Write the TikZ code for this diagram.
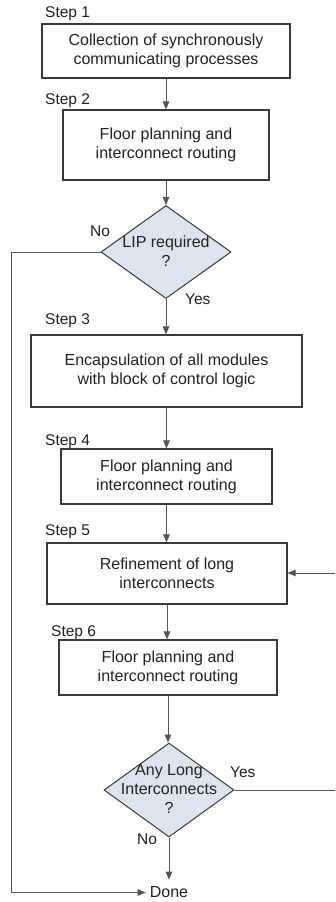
\documentclass[tikz,border=0pt]{standalone}
\usepackage{fontspec}
\setmainfont{Liberation Sans}
\usetikzlibrary{shapes.geometric,arrows.meta}
\definecolor{boxline}{HTML}{3A3A3A}
\definecolor{conn}{HTML}{555555}
\definecolor{diafill}{HTML}{DCE4F0}
\definecolor{txtc}{HTML}{222222}
\tikzset{
  stepbox/.style={draw=boxline, line width=1.1pt, fill=white, inner sep=0pt, align=center,
    text=txtc, font=\fontsize{16}{19}\selectfont},
  diabox/.style={draw=boxline, line width=1pt, fill=diafill, diamond, inner sep=0pt,
    minimum width=130pt, minimum height=93pt},
  txt/.style={text=txtc, inner sep=0pt, align=center, font=\fontsize{16}{19}\selectfont},
  steplbl/.style={text=txtc, inner sep=0pt, anchor=base west, font=\fontsize{15.5}{18}\selectfont},
  conn/.style={draw=conn, line width=1pt},
  arr/.style={conn, -{Triangle[length=8pt,width=6.5pt]}},
}
\begin{document}
\begin{tikzpicture}[x=1pt,y=-1pt]
\useasboundingbox (0,0) rectangle (335,902);
\clip (0,0) rectangle (335,902);
\fill[white] (0,0) rectangle (335,902);

% step labels
\node[steplbl] (s1) at (45,17) {Step 1};
\node[steplbl] (s2) at (45,104) {Step 2};
\node[steplbl] (s3) at (45,324) {Step 3};
\node[steplbl] (s4) at (45,445) {Step 4};
\node[steplbl] (s5) at (45,535) {Step 5};
\node[steplbl] (s6) at (51,636) {Step 6};

% boxes
\node[stepbox, minimum width=248pt, minimum height=54pt] (b1) at (166,51) {Collection of synchronously\\communicating processes};
\node[stepbox, minimum width=206pt, minimum height=70pt] (b2) at (166,145) {Floor planning and\\interconnect routing};
\node[diabox] (d1) at (166,252) {};
\node[txt] (d1t) at (166,251) {LIP required\\?};
\node[stepbox, minimum width=271pt, minimum height=72pt] (b3) at (166.5,371) {Encapsulation of all modules\\with block of control logic};
\node[stepbox, minimum width=211pt, minimum height=55pt] (b4) at (166.5,476.5) {Floor planning and\\interconnect routing};
\node[stepbox, minimum width=240pt, minimum height=61pt] (b5) at (167,573.5) {Refinement of long\\interconnects};
\node[stepbox, minimum width=218pt, minimum height=55pt] (b6) at (168,667.5) {Floor planning and\\interconnect routing};
\node[diabox, minimum width=130pt, minimum height=94pt] (d2) at (169,790) {};
\node[txt] (d2t) at (169,789) {Any Long\\Interconnects\\?};
\node[txt, inner xsep=4pt, inner ysep=7pt, anchor=center] (done) at (169,892.5) {Done};

% branch labels
\node[steplbl] (no1) at (90,236) {No};
\node[steplbl] (yes1) at (185,304) {Yes};
\node[steplbl] (yes2) at (230,777) {Yes};
\node[steplbl] (no2) at (137,844) {No};

% connectors
\draw[arr] (b1.south) -- (b1.south |- b2.north);
\draw[arr] (b2.south) -- (b2.south |- d1.north);
\draw[arr] (d1.south) -- (d1.south |- b3.north);
\draw[arr] (b3.south) -- (b3.south |- b4.north);
\draw[arr] (b4.south) -- (b4.south |- b5.north);
\draw[arr] (b5.south) -- (b5.south |- b6.north);
\draw[arr] (b6.south) -- (b6.south |- d2.north);
\draw[arr] (d2.south) -- (d2.south |- done.north);
\coordinate (lt) at (11,252);
\coordinate (lb) at (11,892.5);
\draw[arr] (d1.west) -- (lt) -- (lb) -- (done.west);
\coordinate (rt) at (336,573);
\coordinate (rb) at (336,790);
\draw[arr] (d2.east) -- (rb) -- (rt) -- (b5.east |- rt);
\end{tikzpicture}
\end{document}
